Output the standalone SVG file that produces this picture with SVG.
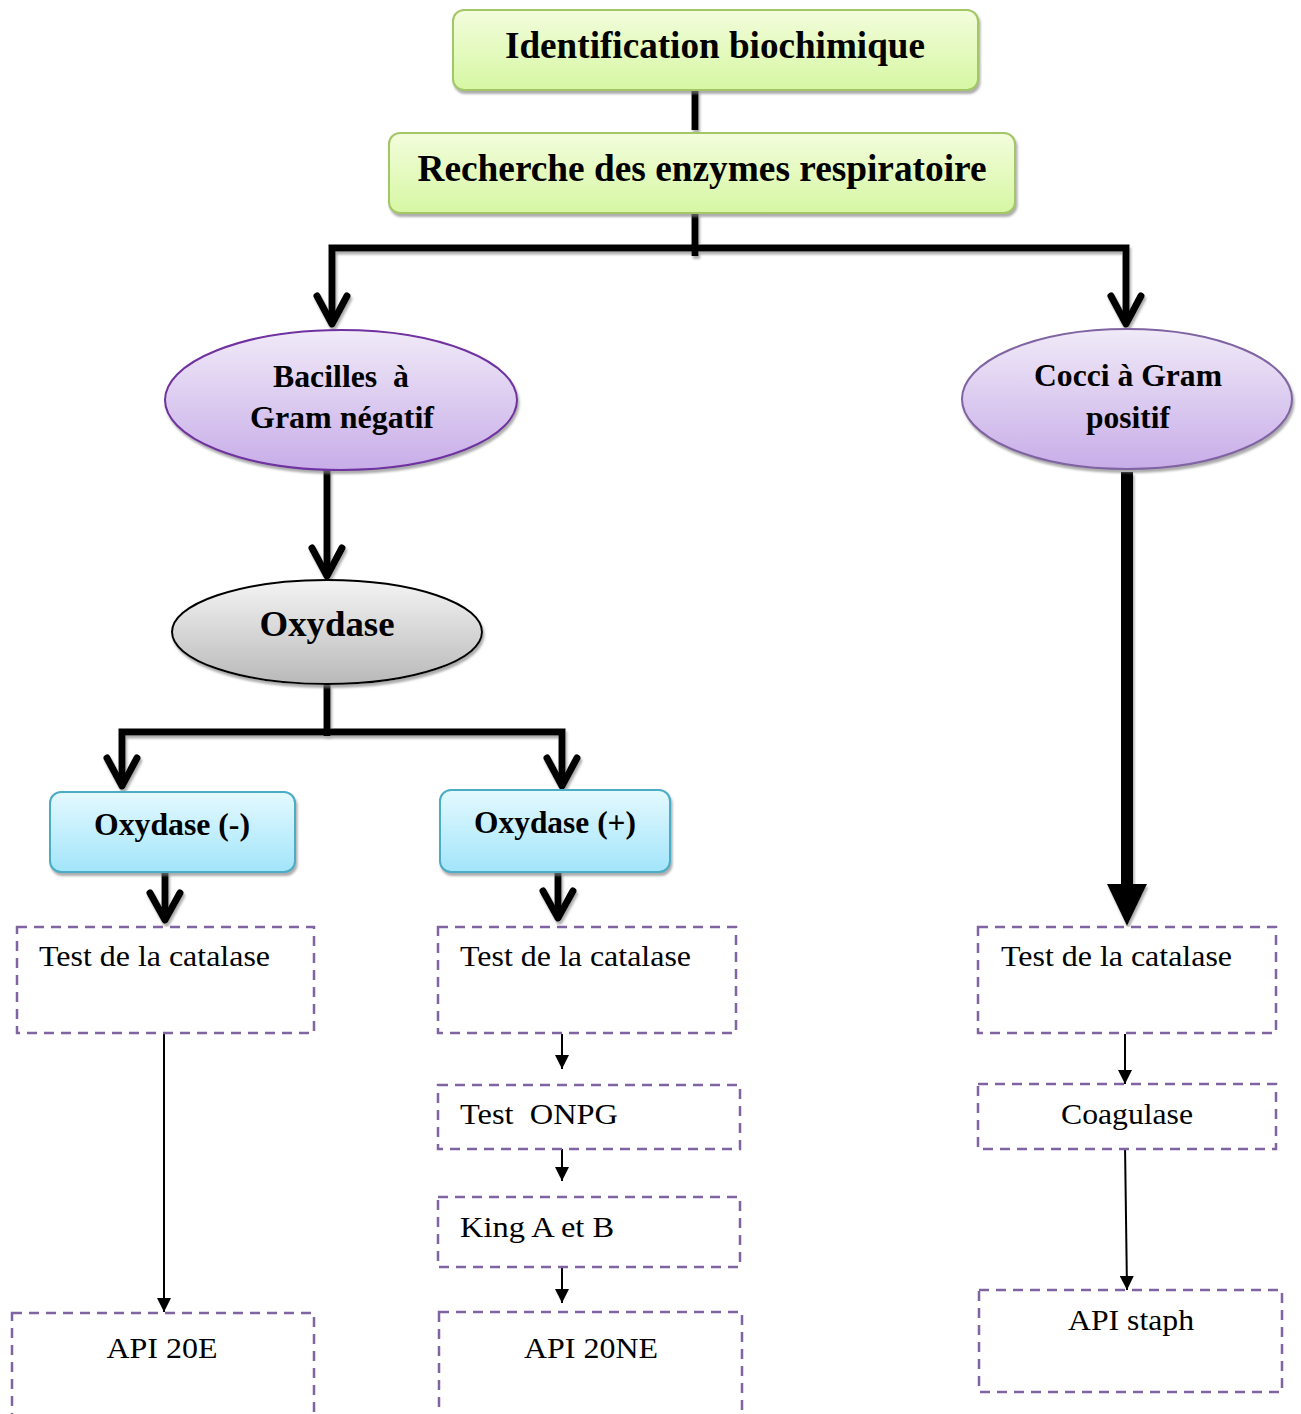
<svg xmlns="http://www.w3.org/2000/svg" width="1301" height="1414" viewBox="0 0 1301 1414">
<defs>
<linearGradient id="gGreen" x1="0" y1="0" x2="0" y2="1"><stop offset="0" stop-color="#f3fddc"/><stop offset="1" stop-color="#d6f7a3"/></linearGradient>
<linearGradient id="gPurple" x1="0" y1="0" x2="0" y2="1"><stop offset="0" stop-color="#f0eaf8"/><stop offset="1" stop-color="#c8ade8"/></linearGradient>
<linearGradient id="gGray" x1="0" y1="0" x2="0" y2="1"><stop offset="0" stop-color="#f4f4f4"/><stop offset="1" stop-color="#b9b9b9"/></linearGradient>
<linearGradient id="gBlue" x1="0" y1="0" x2="0" y2="1"><stop offset="0" stop-color="#e4f9ff"/><stop offset="1" stop-color="#a2e5fa"/></linearGradient>
<filter id="sh" x="-10%" y="-10%" width="120%" height="130%"><feDropShadow dx="1.5" dy="3" stdDeviation="1.2" flood-color="#808080" flood-opacity="0.65"/></filter>
<marker id="tri" viewBox="0 0 10 10" refX="10" refY="5" markerWidth="7" markerHeight="7" orient="auto" markerUnits="strokeWidth"><path d="M0,0 L10,5 L0,10 Z" fill="#000"/></marker>
</defs>
<style>
.bt{font-weight:bold;fill:#000;text-anchor:middle}
.rt{font-size:29px;fill:#000;white-space:pre}
.thick{fill:none;stroke:#000;stroke-width:7}
.chev{fill:none;stroke:#000;stroke-width:7;stroke-linecap:round;stroke-linejoin:round}
.thin{fill:none;stroke:#000;stroke-width:2}
.dash{fill:#fff;stroke:#8064a2;stroke-width:2.5;stroke-dasharray:10 7}
</style>

<g id="connectors">
<g filter="url(#sh)">
<line class="thick" x1="695" y1="90" x2="695" y2="130"/>
<line class="thick" x1="695" y1="213" x2="695" y2="256"/>
<path class="thick" d="M332,324 V248 H1126 V324"/>
<path class="chev" d="M317,296 L332,324 L347,296"/>
<path class="chev" d="M1111,296 L1126,324 L1141,296"/>
<line class="thick" x1="327" y1="470" x2="327" y2="576"/>
<path class="chev" d="M312,548 L327,576 L342,548"/>
<line class="thick" x1="327" y1="685" x2="327" y2="736"/>
<path class="thick" d="M122,786 V732 H562 V786"/>
<path class="chev" d="M107,758 L122,786 L137,758"/>
<path class="chev" d="M547,758 L562,786 L577,758"/>
<line class="thick" x1="165" y1="872" x2="165" y2="920"/>
<path class="chev" d="M150,893 L165,920 L180,893"/>
<line class="thick" x1="558" y1="872" x2="558" y2="918"/>
<path class="chev" d="M543,891 L558,918 L573,891"/>
<line x1="1127" y1="472" x2="1127" y2="890" stroke="#000" stroke-width="12"/>
<path d="M1107,884 L1147,884 L1127,926 Z" fill="#000"/>
</g>
<line class="thin" x1="164" y1="1034" x2="164" y2="1312" marker-end="url(#tri)"/>
<line class="thin" x1="562" y1="1034" x2="562" y2="1069" marker-end="url(#tri)"/>
<line class="thin" x1="562" y1="1146" x2="562" y2="1181" marker-end="url(#tri)"/>
<line class="thin" x1="562" y1="1267" x2="562" y2="1303" marker-end="url(#tri)"/>
<line class="thin" x1="1125" y1="1034" x2="1125" y2="1084" marker-end="url(#tri)"/>
<line class="thin" x1="1125" y1="1145" x2="1127" y2="1290" marker-end="url(#tri)"/>
</g>

<g font-family="Liberation Serif, Times New Roman, serif">
<g id="n-identification">
<rect x="453" y="10" width="525" height="80" rx="11" fill="url(#gGreen)" stroke="#a3c766" stroke-width="2" filter="url(#sh)"/>
<text class="bt" x="715" y="58" font-size="38" textLength="420" lengthAdjust="spacingAndGlyphs">Identification biochimique</text>
</g>
<g id="n-recherche">
<rect x="389" y="133" width="626" height="80" rx="11" fill="url(#gGreen)" stroke="#a3c766" stroke-width="2" filter="url(#sh)"/>
<text class="bt" x="702" y="181" font-size="38" textLength="569" lengthAdjust="spacingAndGlyphs">Recherche des enzymes respiratoire</text>
</g>
<g id="n-bacilles">
<ellipse cx="341" cy="400" rx="176" ry="70" fill="url(#gPurple)" stroke="#7030a0" stroke-width="2" filter="url(#sh)"/>
<text class="bt" x="341" y="387" font-size="32" textLength="136" lengthAdjust="spacingAndGlyphs" style="white-space:pre">Bacilles  à</text>
<text class="bt" x="342" y="428" font-size="32" textLength="184" lengthAdjust="spacingAndGlyphs">Gram négatif</text>
</g>
<g id="n-cocci">
<ellipse cx="1127" cy="399" rx="165" ry="70" fill="url(#gPurple)" stroke="#8064a2" stroke-width="2" filter="url(#sh)"/>
<text class="bt" x="1128" y="386" font-size="32" textLength="188" lengthAdjust="spacingAndGlyphs">Cocci à Gram</text>
<text class="bt" x="1128" y="428" font-size="32" textLength="84" lengthAdjust="spacingAndGlyphs">positif</text>
</g>
<g id="n-oxydase">
<ellipse cx="327" cy="632" rx="155" ry="52" fill="url(#gGray)" stroke="#000" stroke-width="2" filter="url(#sh)"/>
<text class="bt" x="327" y="636" font-size="35" textLength="135" lengthAdjust="spacingAndGlyphs">Oxydase</text>
</g>
<g id="n-oxneg">
<rect x="50" y="792" width="245" height="80" rx="11" fill="url(#gBlue)" stroke="#4bacc6" stroke-width="2" filter="url(#sh)"/>
<text class="bt" x="172" y="835" font-size="31" textLength="156" lengthAdjust="spacingAndGlyphs">Oxydase (-)</text>
</g>
<g id="n-oxpos">
<rect x="440" y="790" width="230" height="82" rx="11" fill="url(#gBlue)" stroke="#4bacc6" stroke-width="2" filter="url(#sh)"/>
<text class="bt" x="555" y="833" font-size="31" textLength="162" lengthAdjust="spacingAndGlyphs">Oxydase (+)</text>
</g>

<g id="n-cat1">
<rect class="dash" x="17" y="927" width="297" height="106"/>
<text class="rt" x="39" y="966" textLength="231" lengthAdjust="spacingAndGlyphs">Test de la catalase</text>
</g>
<g id="n-cat2">
<rect class="dash" x="438" y="927" width="298" height="106"/>
<text class="rt" x="460" y="966" textLength="231" lengthAdjust="spacingAndGlyphs">Test de la catalase</text>
</g>
<g id="n-cat3">
<rect class="dash" x="978" y="927" width="298" height="106"/>
<text class="rt" x="1001" y="966" textLength="231" lengthAdjust="spacingAndGlyphs">Test de la catalase</text>
</g>
<g id="n-onpg">
<rect class="dash" x="438" y="1085" width="302" height="64"/>
<text class="rt" x="460" y="1124" textLength="158" lengthAdjust="spacingAndGlyphs">Test  ONPG</text>
</g>
<g id="n-king">
<rect class="dash" x="438" y="1197" width="302" height="70"/>
<text class="rt" x="460" y="1237" textLength="154" lengthAdjust="spacingAndGlyphs">King A et B</text>
</g>
<g id="n-api20e">
<rect class="dash" x="12" y="1313" width="302" height="110"/>
<text class="rt" x="162" y="1358" text-anchor="middle" textLength="111" lengthAdjust="spacingAndGlyphs">API 20E</text>
</g>
<g id="n-api20ne">
<rect class="dash" x="439" y="1312" width="303" height="110"/>
<text class="rt" x="591" y="1358" text-anchor="middle" textLength="134" lengthAdjust="spacingAndGlyphs">API 20NE</text>
</g>
<g id="n-coag">
<rect class="dash" x="978" y="1084" width="298" height="65"/>
<text class="rt" x="1127" y="1124" text-anchor="middle" textLength="132" lengthAdjust="spacingAndGlyphs">Coagulase</text>
</g>
<g id="n-apistaph">
<rect class="dash" x="979" y="1290" width="303" height="102"/>
<text class="rt" x="1131" y="1330" text-anchor="middle" textLength="126" lengthAdjust="spacingAndGlyphs">API staph</text>
</g>
</g>
</svg>
